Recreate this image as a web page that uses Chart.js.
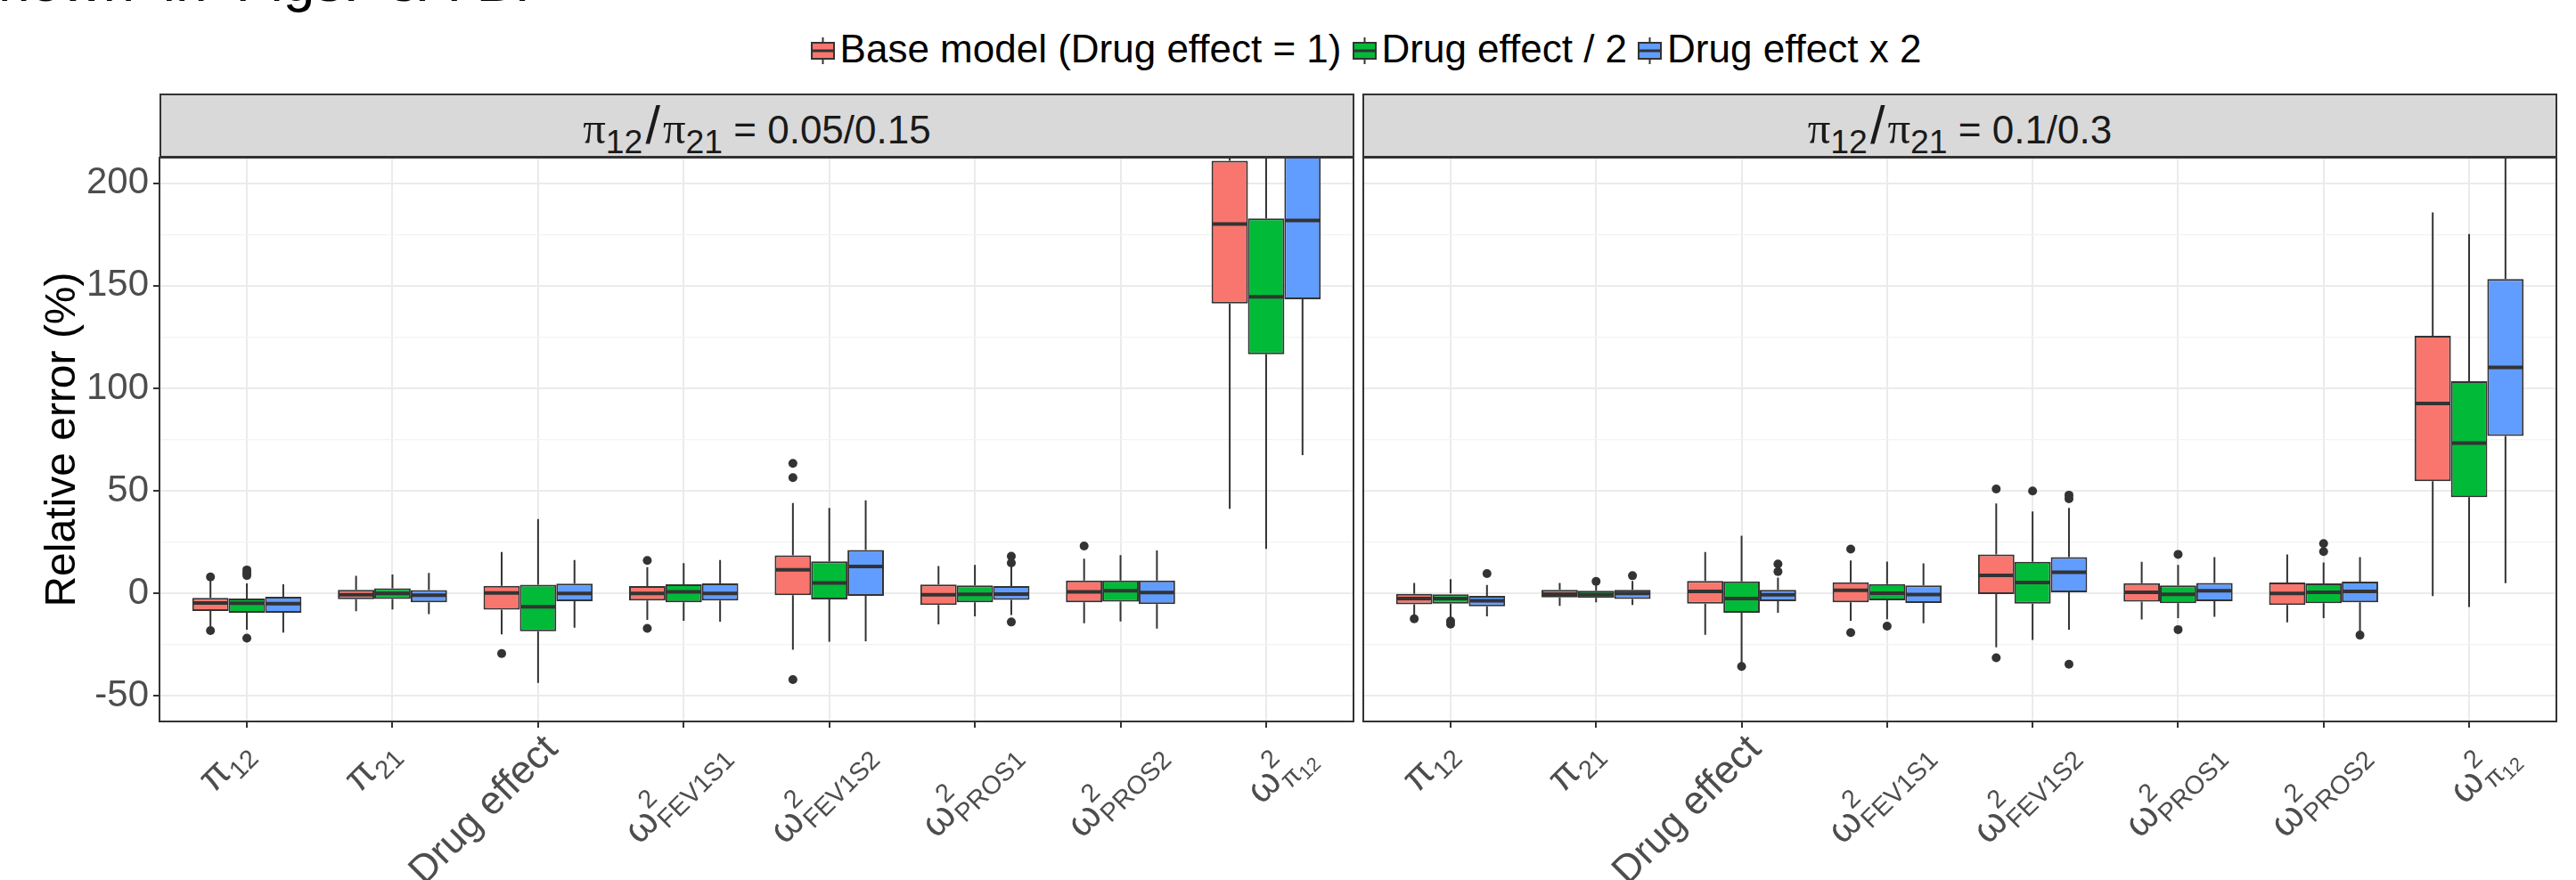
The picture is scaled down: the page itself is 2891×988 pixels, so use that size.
<!DOCTYPE html>
<html>
<head>
<meta charset="utf-8">
<script src="https://cdn.jsdelivr.net/npm/chart.js@4.4.1/dist/chart.umd.min.js"></script>
<style>
  body { margin:0; width:2891px; height:988px; position:relative; overflow:hidden; background:#fff;
         font-family:"Liberation Sans", Arial, sans-serif; }
  #docText { position:absolute; left:-2px; top:-53px; font-size:64px; line-height:64px; white-space:nowrap;
             word-spacing:14px; color:#000; }
  #legend { position:absolute; left:194px; width:2690px; top:33px; height:44px; display:flex;
            justify-content:center; align-items:center; font-size:44px; line-height:44px; color:#000; white-space:nowrap; }
  .key { display:flex; align-items:center; margin-right:12px; }
  .key svg { margin-right:6px; position:relative; top:2px; }
  .strip { position:absolute; top:105px; height:72px; box-sizing:border-box; border:2px solid #333;
           background:#D9D9D9; color:#1A1A1A; font-size:44px; line-height:68px; text-align:center; white-space:nowrap; }
  .strip .pi { font-family:"Liberation Serif", serif; font-size:1.15em; }
  .strip sub { font-size:0.85em; vertical-align:-0.3em; line-height:0; }
  .strip .sl { font-size:1.35em; margin:0 3px; }
  canvas { position:absolute; top:170px; }
</style>
</head>
<body>
<div id="docText">hown in Figs. 3A-B.</div>
<div id="legend"></div>
<div class="strip" style="left:179px; width:1341px;"><span class="pi">π</span><sub>12</sub><span class="sl">/</span><span class="pi">π</span><sub>21</sub> = 0.05/0.15</div>
<div class="strip" style="left:1529px; width:1341px;"><span class="pi">π</span><sub>12</sub><span class="sl">/</span><span class="pi">π</span><sub>21</sub> = 0.1/0.3</div>
<canvas id="panelA" width="1524" height="818" style="left:0px;"></canvas>
<canvas id="panelB" width="1365" height="818" style="left:1526px;"></canvas>

<script>
// groups (fill colours follow ggplot's default hue palette)
const groupNames = ['Base model (Drug effect = 1)', 'Drug effect / 2', 'Drug effect x 2'];
const groupColors = ['#F8766D', '#00BA38', '#619CFF'];

// x categories, tick labels written as base / superscript / subscript parts
const categories = ['pi12', 'pi21', 'Drug effect', 'omega2 FEV1S1', 'omega2 FEV1S2', 'omega2 PROS1', 'omega2 PROS2', 'omega2 pi12'];
const tickLabels = [
  { base: 'π', sub: '12' },
  { base: 'π', sub: '21' },
  { base: 'Drug effect' },
  { base: 'ω', sup: '2', sub: 'FEV1S1' },
  { base: 'ω', sup: '2', sub: 'FEV1S2' },
  { base: 'ω', sup: '2', sub: 'PROS1' },
  { base: 'ω', sup: '2', sub: 'PROS2' },
  { base: 'ω', sup: '2', sub: 'π', subsub: '12' }
];

// y axis
const yMin = -62.5, yMax = 212.5;
const yTickValues = [-50, -25, 0, 25, 50, 75, 100, 125, 150, 175, 200];

// panel A: pi12/pi21 = 0.05/0.15
// each row: [lower whisker, Q1, median, Q3, upper whisker]
const aBase = [
  [-16.0, -8.6, -4.7, -2.2, 6.3],
  [-8.7, -2.9, -0.7, 1.7, 8.5],
  [-20.0, -8.0, 0.2, 3.6, 20.1],
  [-13.0, -3.5, 0.0, 3.5, 12.8],
  [-27.5, -0.9, 11.5, 18.5, 44.0],
  [-15.1, -5.7, -0.7, 4.3, 13.3],
  [-14.6, -4.4, 0.7, 6.2, 16.9],
  [41.2, 141.4, 180.1, 211.0, 290.0]
];
const aBaseOut = [[8.0, -18.2], [], [-29.4], [16.0, -17.1], [63.4, 56.4, -42.1], [], [23.1], []];
const aHalf = [
  [-17.8, -9.5, -4.8, -2.5, 4.8],
  [-7.9, -2.8, 0.0, 2.5, 9.2],
  [-43.7, -18.5, -6.6, 4.2, 36.2],
  [-13.4, -4.4, 0.7, 4.4, 14.7],
  [-23.6, -3.0, 5.1, 15.6, 41.7],
  [-11.2, -4.4, -0.5, 3.9, 13.8],
  [-13.7, -4.1, 1.2, 6.2, 18.6],
  [21.7, 116.6, 144.6, 182.8, 280.0]
];
const aHalfOut = [[11.4, 9.8, 8.7, -21.9], [], [], [], [], [], [], []];
const aDouble = [
  [-19.2, -9.5, -5.0, -1.7, 4.4],
  [-10.2, -4.4, -0.9, 1.6, 9.9],
  [-16.8, -3.9, 0.0, 4.7, 16.2],
  [-13.8, -3.5, -0.1, 4.8, 16.2],
  [-23.4, -1.2, 13.1, 21.1, 45.3],
  [-10.6, -3.2, -0.4, 3.5, 13.3],
  [-17.2, -5.3, 0.4, 6.2, 20.9],
  [67.4, 143.4, 181.9, 235.0, 310.0]
];
const aDoubleOut = [[], [], [], [], [], [18.1, 14.8, -14.0], [], []];

// panel B: pi12/pi21 = 0.1/0.3
const bBase = [
  [-10.5, -5.4, -2.6, -0.3, 5.1],
  [-6.1, -2.0, -0.4, 1.7, 5.1],
  [-20.3, -5.0, 0.9, 6.0, 20.1],
  [-13.4, -4.4, 1.5, 5.4, 16.0],
  [-26.3, -0.4, 8.7, 19.0, 43.8],
  [-12.8, -4.1, 0.5, 5.0, 15.4],
  [-14.2, -5.7, 0.0, 5.3, 19.0],
  [-1.4, 54.7, 92.6, 125.6, 185.8]
];
const bBaseOut = [[-12.4], [], [], [21.6, -19.2], [50.9, -31.4], [], [], []];
const bHalf = [
  [-12.0, -5.0, -2.5, 0.0, 6.9],
  [-4.4, -2.2, -0.6, 1.2, 4.1],
  [-33.8, -9.5, -2.6, 5.8, 28.1],
  [-12.7, -3.4, 0.1, 4.5, 15.5],
  [-22.7, -5.0, 5.3, 15.4, 39.9],
  [-12.1, -4.8, -0.5, 3.9, 13.8],
  [-12.1, -4.8, 0.5, 4.8, 15.1],
  [-6.7, 46.9, 73.3, 103.5, 175.2]
];
const bHalfOut = [[-13.5, -15.0], [5.8], [-35.7], [-16.0], [49.9], [19.0, -17.7], [24.3, 20.4], []];
const bDouble = [
  [-11.2, -6.3, -3.6, -1.2, 4.1],
  [-5.7, -2.8, 0.0, 1.7, 6.0],
  [-9.5, -3.9, -0.7, 1.7, 7.7],
  [-14.6, -4.7, -0.6, 3.9, 14.6],
  [-17.7, 0.5, 10.3, 17.7, 41.7],
  [-11.5, -3.9, 1.2, 5.1, 17.7],
  [-18.6, -4.4, 0.9, 5.7, 17.7],
  [5.0, 76.7, 110.2, 153.3, 245.0]
];
const bDoubleOut = [[9.6], [8.6], [14.3, 10.6], [], [47.9, 46.1, -34.6], [], [-20.4], []];

const FONT = "'Liberation Sans', Arial, sans-serif";
const INK = '#333333';

Chart.defaults.font.family = FONT;
Chart.defaults.animation = false;

// whiskers, medians, outliers on top of the floating-bar boxes
const boxMarks = {
  id: 'boxMarks',
  afterDatasetsDraw(chart) {
    const ctx = chart.ctx, y = chart.scales.y, a = chart.chartArea;
    ctx.save();
    ctx.beginPath();
    ctx.rect(a.left, a.top, a.right - a.left, a.bottom - a.top);
    ctx.clip();
    ctx.strokeStyle = INK;
    ctx.fillStyle = INK;
    chart.data.datasets.forEach((ds, d) => {
      const meta = chart.getDatasetMeta(d);
      meta.data.forEach((bar, j) => {
        const s = ds.stats[j];
        ctx.lineWidth = 2;
        ctx.beginPath();
        ctx.moveTo(bar.x, y.getPixelForValue(s[3]));
        ctx.lineTo(bar.x, y.getPixelForValue(s[4]));
        ctx.moveTo(bar.x, y.getPixelForValue(s[1]));
        ctx.lineTo(bar.x, y.getPixelForValue(s[0]));
        ctx.stroke();
        ctx.lineWidth = 4;
        ctx.beginPath();
        ctx.moveTo(bar.x - bar.width / 2 + 1, y.getPixelForValue(s[2]));
        ctx.lineTo(bar.x + bar.width / 2 - 1, y.getPixelForValue(s[2]));
        ctx.stroke();
        ds.outliers[j].forEach(v => {
          ctx.beginPath();
          ctx.arc(bar.x, y.getPixelForValue(v), 5, 0, Math.PI * 2);
          ctx.fill();
        });
      });
    });
    ctx.restore();
  }
};

// panel border drawn last, like ggplot's panel.border
const panelBorder = {
  id: 'panelBorder',
  afterDraw(chart) {
    const a = chart.chartArea, ctx = chart.ctx;
    ctx.save();
    ctx.strokeStyle = INK;
    ctx.lineWidth = 2;
    ctx.strokeRect(a.left, a.top, a.right - a.left, a.bottom - a.top);
    ctx.restore();
  }
};

// rotated x tick labels with plotmath-like sub/superscripts
// baseline / end offsets (in the rotated frame) per label kind
const labelPlacement = {
  plain: { base: 26, end: 6 },
  sub: { base: 17, end: -9 },
  script: { base: 49, end: 21 }
};
const mathTicks = {
  id: 'mathTicks',
  afterDraw(chart) {
    const ctx = chart.ctx, xs = chart.scales.x;
    const mainFont = '44px ' + FONT, subFont = '29px ' + FONT, tinyFont = '22px ' + FONT;
    tickLabels.forEach((lab, i) => {
      const parts = [];
      ctx.font = mainFont;
      let w = ctx.measureText(lab.base).width;
      parts.push({ text: lab.base, font: mainFont, x: 0, dy: 0 });
      let supW = 0, subW = 0;
      if (lab.sup) {
        ctx.font = subFont;
        supW = ctx.measureText(lab.sup).width;
        parts.push({ text: lab.sup, font: subFont, x: w + 1, dy: -21 });
      }
      if (lab.sub) {
        ctx.font = subFont;
        subW = ctx.measureText(lab.sub).width;
        parts.push({ text: lab.sub, font: subFont, x: w + 1, dy: 10 });
        if (lab.subsub) {
          ctx.font = tinyFont;
          parts.push({ text: lab.subsub, font: tinyFont, x: w + 1 + subW, dy: 16 });
          subW += ctx.measureText(lab.subsub).width;
        }
      }
      w += 1 + Math.max(supW, subW);
      const place = labelPlacement[lab.sup ? 'script' : (lab.sub ? 'sub' : 'plain')];
      ctx.save();
      ctx.translate(xs.getPixelForValue(i + 1) + 2, chart.chartArea.bottom + 18);
      ctx.rotate(-Math.PI / 4);
      ctx.fillStyle = '#4D4D4D';
      ctx.textAlign = 'left';
      ctx.textBaseline = 'alphabetic';
      parts.forEach(p => {
        ctx.font = p.font;
        ctx.fillText(p.text, p.x - w + place.end, place.base + p.dy);
      });
      ctx.restore();
    });
  }
};

function boxDataset(i, stats, outliers) {
  return {
    label: groupNames[i],
    data: stats.map((s, j) => ({ x: j + 1, y: [s[1], s[3]] })),
    backgroundColor: groupColors[i],
    borderColor: INK,
    borderWidth: 2,
    borderSkipped: false,
    categoryPercentage: 0.75,
    barPercentage: 1,
    stats: stats,
    outliers: outliers
  };
}

function makePanel(id, series, showY, padding) {
  const isMajor = v => v % 50 === 0;
  return new Chart(document.getElementById(id), {
    type: 'bar',
    data: { datasets: series.map((s, i) => boxDataset(i, s[0], s[1])) },
    options: {
      responsive: false,
      devicePixelRatio: 1,
      layout: { padding: padding },
      plugins: { legend: { display: false }, tooltip: { enabled: false } },
      scales: {
        x: {
          type: 'linear',
          min: 0.4,
          max: 8.6,
          offset: false,
          afterBuildTicks: s => { s.ticks = categories.map((c, j) => ({ value: j + 1 })); },
          afterFit: s => { s.height = 178; s.paddingLeft = 0; s.paddingRight = 0; },
          ticks: { display: false },
          grid: { offset: false, color: '#EBEBEB', lineWidth: 2, tickLength: 7, tickColor: INK, tickWidth: 2 },
          border: { display: false }
        },
        y: {
          type: 'linear',
          min: yMin,
          max: yMax,
          afterBuildTicks: s => { s.ticks = yTickValues.map(v => ({ value: v })); },
          afterFit: s => { s.width = showY ? 179 : 0; s.paddingTop = 0; s.paddingBottom = 0; },
          ticks: {
            display: showY,
            callback: v => (isMajor(v) ? String(v) : ''),
            font: { size: 42 },
            color: '#4D4D4D',
            padding: 5
          },
          grid: {
            color: c => (isMajor(c.tick.value) ? '#EBEBEB' : '#F3F3F3'),
            lineWidth: c => (isMajor(c.tick.value) ? 2 : 1.2),
            drawTicks: showY,
            tickLength: 7,
            tickColor: c => (isMajor(c.tick.value) ? INK : 'rgba(0,0,0,0)'),
            tickWidth: 2
          },
          border: { display: false },
          title: {
            display: showY,
            text: 'Relative error (%)',
            color: '#000',
            font: { size: 48 },
            padding: { top: 42, bottom: 0 }
          }
        }
      }
    },
    plugins: [boxMarks, panelBorder, mathTicks]
  });
}

makePanel('panelA', [[aBase, aBaseOut], [aHalf, aHalfOut], [aDouble, aDoubleOut]], true,
  { left: 0, right: 5, top: 7, bottom: 0 });
makePanel('panelB', [[bBase, bBaseOut], [bHalf, bHalfOut], [bDouble, bDoubleOut]], false,
  { left: 4, right: 22, top: 7, bottom: 0 });

// legend with boxplot keys
const legend = document.getElementById('legend');
groupNames.forEach((name, i) => {
  const item = document.createElement('div');
  item.className = 'key';
  item.innerHTML =
    '<svg width="27" height="30" viewBox="0 0 27 30">' +
    '<line x1="13.5" y1="0" x2="13.5" y2="30" stroke="#333" stroke-width="2"/>' +
    '<rect x="1" y="6" width="25" height="18" fill="' + groupColors[i] + '" stroke="#333" stroke-width="2"/>' +
    '<line x1="1" y1="15" x2="26" y2="15" stroke="#333" stroke-width="3"/></svg>' +
    '<span>' + name + '</span>';
  legend.appendChild(item);
});
</script>
</body>
</html>
